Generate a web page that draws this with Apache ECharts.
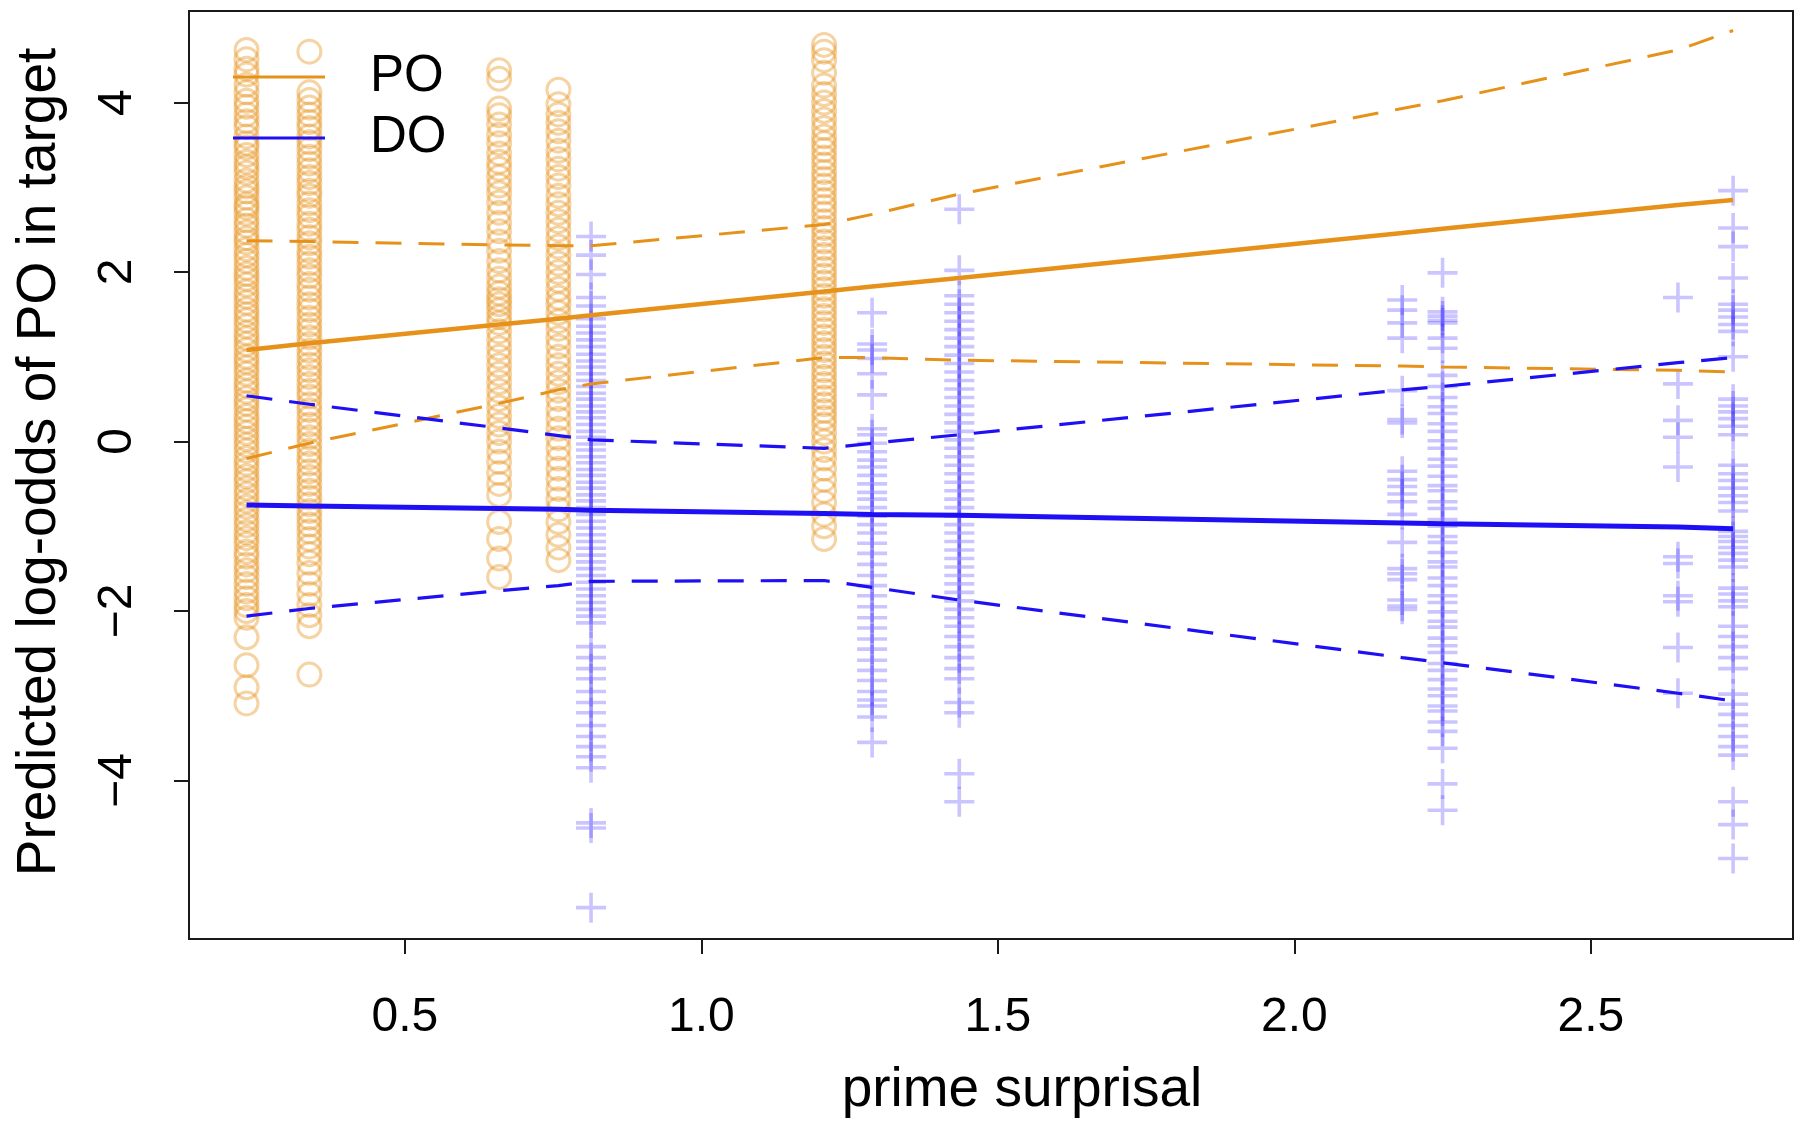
<!DOCTYPE html>
<html>
<head>
<meta charset="utf-8">
<script src="https://cdn.jsdelivr.net/npm/echarts@6/dist/echarts.min.js"></script>
<style>
html,body{margin:0;padding:0;background:#fff;}
#chart{width:1800px;height:1131px;}
</style>
</head>
<body>
<div id="chart"></div>
<script>
// ---- data ----
const PO_X = [0.233, 0.339, 0.659, 0.759, 1.207];
const PO_Y1 = [4.62, 4.51, 4.4, 4.33, 4.21, 4.12, 4.02, 3.95, 3.86, 3.78, 3.71, 3.6, 3.52, 3.47, 3.38, 3.3, 3.24, 3.17, 3.08, 3.01, 2.95, 2.88, 2.8, 2.76, 2.69, 2.61, 2.55, 2.47, 2.4, 2.35, 2.27, 2.2, 2.13, 2.05, 1.98, 1.92, 1.85, 1.77, 1.71, 1.64, 1.56, 1.5, 1.43, 1.36, 1.28, 1.22, 1.15, 1.08, 1.0, 0.94, 0.87, 0.8, 0.72, 0.66, 0.59, 0.51, 0.45, 0.38, 0.3, 0.24, 0.17, 0.1, 0.03, -0.04, -0.11, -0.19, -0.26, -0.33, -0.41, -0.47, -0.55, -0.62, -0.7, -0.77, -0.84, -0.92, -0.99, -1.07, -1.14, -1.21, -1.3, -1.36, -1.45, -1.52, -1.6, -1.68, -1.77, -1.85, -1.93, -2.0, -2.08, -2.31, -2.64, -2.9, -3.09];
const PO_Y2 = [4.6, 4.12, 4.03, 3.94, 3.86, 3.77, 3.7, 3.6, 3.53, 3.45, 3.36, 3.28, 3.2, 3.12, 3.05, 2.96, 2.9, 2.81, 2.73, 2.66, 2.57, 2.5, 2.41, 2.34, 2.25, 2.18, 2.1, 2.02, 1.95, 1.86, 1.79, 1.7, 1.62, 1.55, 1.46, 1.38, 1.31, 1.23, 1.15, 1.07, 0.99, 0.91, 0.84, 0.76, 0.68, 0.6, 0.53, 0.44, 0.37, 0.28, 0.2, 0.13, 0.05, -0.03, -0.11, -0.19, -0.26, -0.35, -0.42, -0.5, -0.58, -0.66, -0.74, -0.82, -0.9, -0.98, -1.06, -1.15, -1.24, -1.33, -1.43, -1.55, -1.68, -1.8, -1.93, -2.05, -2.18, -2.75];
const PO_Y3 = [4.38, 4.28, 3.93, 3.85, 3.74, 3.62, 3.52, 3.4, 3.3, 3.22, 3.12, 3.02, 2.93, 2.82, 2.7, 2.58, 2.48, 2.36, 2.25, 2.13, 2.02, 1.92, 1.83, 1.75, 1.68, 1.62, 1.55, 1.47, 1.4, 1.3, 1.2, 1.1, 1.0, 0.9, 0.8, 0.7, 0.6, 0.5, 0.4, 0.3, 0.2, 0.1, 0.0, -0.12, -0.24, -0.37, -0.5, -0.63, -0.95, -1.15, -1.38, -1.6];
const PO_Y4 = [4.15, 3.98, 3.86, 3.76, 3.66, 3.55, 3.43, 3.33, 3.22, 3.12, 3.02, 2.9, 2.8, 2.7, 2.6, 2.5, 2.4, 2.3, 2.2, 2.1, 2.0, 1.9, 1.8, 1.7, 1.62, 1.52, 1.42, 1.33, 1.22, 1.12, 1.0, 0.9, 0.8, 0.7, 0.6, 0.5, 0.38, 0.27, 0.15, 0.04, -0.08, -0.2, -0.32, -0.44, -0.56, -0.68, -0.8, -0.95, -1.1, -1.25, -1.4];
const PO_Y5 = [4.68, 4.6, 4.5, 4.35, 4.2, 4.1, 4.0, 3.9, 3.8, 3.7, 3.6, 3.52, 3.44, 3.35, 3.27, 3.18, 3.1, 3.02, 2.94, 2.85, 2.77, 2.69, 2.6, 2.52, 2.44, 2.36, 2.28, 2.2, 2.12, 2.04, 1.96, 1.88, 1.8, 1.72, 1.64, 1.56, 1.48, 1.4, 1.32, 1.24, 1.16, 1.08, 1.0, 0.92, 0.84, 0.76, 0.68, 0.6, 0.52, 0.44, 0.36, 0.28, 0.2, 0.1, 0.0, -0.1, -0.2, -0.32, -0.45, -0.58, -0.72, -0.86, -1.0, -1.15];

const DO_X = [0.814, 1.288, 1.435, 2.182, 2.250, 2.647, 2.740];
const DO_Y1 = [2.42, 2.2, 1.97, 1.7, 1.6, 1.45, 1.36, 1.28, 1.2, 1.12, 1.03, 0.95, 0.88, 0.8, 0.72, 0.65, 0.57, 0.5, 0.42, 0.35, 0.28, 0.2, 0.12, 0.05, -0.03, -0.1, -0.18, -0.25, -0.33, -0.4, -0.48, -0.55, -0.63, -0.7, -0.78, -0.86, -0.94, -1.02, -1.1, -1.18, -1.26, -1.34, -1.42, -1.5, -1.58, -1.66, -1.74, -1.82, -1.9, -1.98, -2.06, -2.14, -2.42, -2.55, -2.68, -2.8, -2.95, -3.08, -3.2, -3.35, -3.48, -3.6, -3.72, -3.85, -4.5, -4.56, -5.5];
const DO_Y2 = [1.52, 1.15, 1.08, 0.98, 0.8, 0.55, 0.15, 0.08, -0.02, -0.12, -0.22, -0.3, -0.4, -0.5, -0.6, -0.68, -0.78, -0.88, -0.98, -1.08, -1.2, -1.32, -1.45, -1.58, -1.7, -1.82, -1.95, -2.08, -2.2, -2.33, -2.45, -2.58, -2.7, -2.82, -2.95, -3.05, -3.12, -3.25, -3.55];
const DO_Y3 = [2.74, 2.02, 1.72, 1.62, 1.52, 1.42, 1.32, 1.22, 1.12, 1.02, 0.92, 0.82, 0.72, 0.62, 0.52, 0.42, 0.32, 0.22, 0.12, 0.02, -0.08, -0.18, -0.28, -0.38, -0.48, -0.58, -0.68, -0.78, -0.88, -0.98, -1.08, -1.18, -1.28, -1.38, -1.48, -1.58, -1.68, -1.78, -1.88, -1.98, -2.08, -2.18, -2.3, -2.42, -2.55, -2.68, -2.8, -3.08, -3.2, -3.92, -4.25];
const DO_Y4 = [1.67, 1.55, 1.4, 1.22, 0.6, 0.26, 0.22, -0.35, -0.45, -0.53, -0.62, -0.71, -0.86, -1.19, -1.5, -1.56, -1.63, -1.87, -1.94, -1.98];
const DO_Y5 = [1.99, 1.53, 1.48, 1.43, 1.4, 1.22, 1.1, 0.78, 0.65, 0.52, 0.41, 0.33, 0.21, 0.12, 0.01, -0.08, -0.21, -0.29, -0.41, -0.52, -0.58, -0.71, -0.79, -0.92, -1.0, -1.12, -1.19, -1.31, -1.42, -1.48, -1.61, -1.7, -1.82, -1.9, -2.01, -2.12, -2.19, -2.32, -2.41, -2.49, -2.62, -2.7, -2.81, -2.92, -3.0, -3.12, -3.18, -3.31, -3.42, -3.62, -4.04, -4.35];
const DO_Y6 = [1.7, 0.68, 0.25, 0.05, -0.3, -1.36, -1.44, -1.82, -1.89, -2.43, -2.97];
const DO_Y7 = [2.96, 2.52, 2.3, 1.93, 1.62, 1.55, 1.47, 1.38, 1.3, 1.0, 0.5, 0.42, 0.35, 0.27, 0.18, 0.08, -0.28, -0.38, -0.46, -0.55, -0.64, -0.72, -0.82, -1.06, -1.12, -1.18, -1.25, -1.32, -1.4, -1.48, -1.73, -1.8, -1.88, -1.95, -2.18, -2.3, -2.42, -2.55, -2.68, -2.98, -3.1, -3.22, -3.35, -3.48, -3.6, -3.7, -4.25, -4.52, -4.92];

const FIT_X = [0.233, 0.339, 0.659, 0.759, 0.814, 1.207, 1.288, 1.435, 2.182, 2.250, 2.647, 2.740];
const PO_FIT = [1.08, 1.16, 1.38, 1.45, 1.49, 1.77, 1.83, 1.93, 2.46, 2.51, 2.79, 2.85];
const PO_UPPER = [2.37, 2.36, 2.32, 2.31, 2.31, 2.56, 2.68, 2.92, 3.93, 4.02, 4.62, 4.85];
const PO_LOWER = [-0.20, -0.02, 0.45, 0.61, 0.68, 0.99, 0.99, 0.96, 0.89, 0.88, 0.84, 0.82];
const DO_FIT = [-0.75, -0.76, -0.79, -0.80, -0.81, -0.85, -0.86, -0.87, -0.96, -0.97, -1.01, -1.03];
const DO_UPPER = [0.54, 0.44, 0.16, 0.07, 0.02, -0.08, -0.02, 0.08, 0.61, 0.65, 0.93, 0.99];
const DO_LOWER = [-2.06, -1.97, -1.76, -1.70, -1.65, -1.64, -1.72, -1.87, -2.55, -2.61, -2.97, -3.06];

const X_TICKS = [0.5, 1.0, 1.5, 2.0, 2.5];
const Y_TICKS = [-4, -2, 0, 2, 4];
const LEGEND_NAMES = ['PO', 'DO'];
const X_TITLE = 'prime surprisal';
const Y_TITLE = 'Predicted log-odds of PO in target';

// ---- build series data ----
function columns(xs, ys) {
  const out = [];
  xs.forEach((x, i) => ys[i].forEach(y => out.push([x, y])));
  return out;
}
const poPoints = columns(PO_X, [PO_Y1, PO_Y2, PO_Y3, PO_Y4, PO_Y5]);
const doPoints = columns(DO_X, [DO_Y1, DO_Y2, DO_Y3, DO_Y4, DO_Y5, DO_Y6, DO_Y7]);
const pair = (ys) => FIT_X.map((x, i) => [x, ys[i]]);

const ORANGE = '#E6921A';
const BLUE = '#1E0FF5';
const FONT = "'Liberation Sans', Arial, Helvetica, sans-serif";
const PLUS = 'path://M44,0 L56,0 L56,44 L100,44 L100,56 L56,56 L56,100 L44,100 L44,56 L0,56 L0,44 L44,44 Z';
const dash = [26, 17];

const chart = echarts.init(document.getElementById('chart'), null, {renderer: 'canvas'});
chart.setOption({
  backgroundColor: '#ffffff',
  animation: false,
  textStyle: {fontFamily: FONT},
  grid: {left: 189, right: 7, top: 11, bottom: 192, show: true, borderColor: '#1a1a1a', borderWidth: 2, backgroundColor: 'transparent'},
  legend: {
    data: LEGEND_NAMES,
    orient: 'vertical',
    left: 228, top: 44,
    icon: 'rect',
    itemWidth: 92, itemHeight: 3,
    itemGap: 5,
    textStyle: {fontSize: 51, color: '#000', fontFamily: FONT, lineHeight: 56, padding: [0, 0, 0, 40]},
    selectedMode: false
  },
  xAxis: {
    type: 'value', min: 0.136, max: 2.841,
    splitLine: {show: false},
    axisLine: {show: true, onZero: false, lineStyle: {color: '#1a1a1a', width: 2}},
    axisTick: {show: true, length: 15, customValues: X_TICKS, lineStyle: {color: '#1a1a1a', width: 2}},
    axisLabel: {customValues: X_TICKS, fontSize: 48, color: '#000', margin: 55, fontFamily: FONT,
      formatter: v => v.toFixed(1)},
    name: X_TITLE, nameLocation: 'middle', nameGap: 124,
    nameTextStyle: {fontSize: 55, color: '#000', fontFamily: FONT, padding: [0, 0, 0, 62]}
  },
  yAxis: {
    type: 'value', min: -5.87, max: 5.08,
    splitLine: {show: false},
    axisLine: {show: true, onZero: false, lineStyle: {color: '#1a1a1a', width: 2}},
    axisTick: {show: true, length: 15, customValues: Y_TICKS, lineStyle: {color: '#1a1a1a', width: 2}},
    axisLabel: {customValues: Y_TICKS, fontSize: 48, color: '#000', margin: 47, rotate: 90, fontFamily: FONT,
      formatter: v => (v < 0 ? '\u2212' + Math.abs(v) : String(v))},
    name: Y_TITLE, nameLocation: 'middle', nameGap: 122,
    nameTextStyle: {fontSize: 55, color: '#000', fontFamily: FONT, padding: [0, 0, 0, 26]}
  },
  series: [
    {
      name: 'PO points', type: 'scatter', data: poPoints,
      symbol: 'circle', symbolSize: 23,
      itemStyle: {color: 'rgba(0,0,0,0)', borderColor: 'rgba(230,146,26,0.5)', borderWidth: 3},
      emphasis: {disabled: true}, z: 2
    },
    {
      name: 'DO points', type: 'scatter', data: doPoints,
      symbol: PLUS, symbolSize: 30,
      itemStyle: {color: 'rgba(50,30,255,0.32)'},
      emphasis: {disabled: true}, z: 2
    },
    {name: 'PO', type: 'line', data: pair(PO_FIT), symbol: 'none', color: ORANGE,
      lineStyle: {color: ORANGE, width: 4.5}, z: 5},
    {name: 'PO upper', type: 'line', data: pair(PO_UPPER), symbol: 'none',
      lineStyle: {color: ORANGE, width: 3, type: dash}, z: 4},
    {name: 'PO lower', type: 'line', data: pair(PO_LOWER), symbol: 'none',
      lineStyle: {color: ORANGE, width: 3, type: dash}, z: 4},
    {name: 'DO', type: 'line', data: pair(DO_FIT), symbol: 'none', color: BLUE,
      lineStyle: {color: BLUE, width: 5}, z: 5},
    {name: 'DO upper', type: 'line', data: pair(DO_UPPER), symbol: 'none',
      lineStyle: {color: BLUE, width: 3.2, type: dash}, z: 4},
    {name: 'DO lower', type: 'line', data: pair(DO_LOWER), symbol: 'none',
      lineStyle: {color: BLUE, width: 3.2, type: dash}, z: 4}
  ]
});
</script>
</body>
</html>
